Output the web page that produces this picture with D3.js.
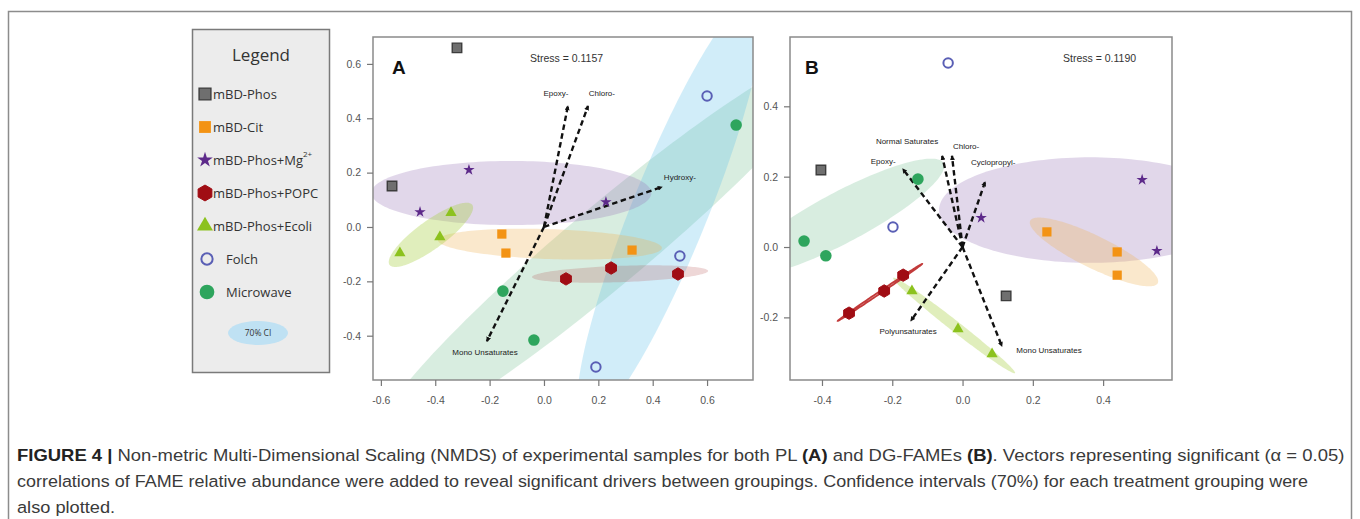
<!DOCTYPE html>
<html>
<head>
<meta charset="utf-8">
<script src="https://cdn.jsdelivr.net/npm/d3@7"></script>
<style>
  body { margin: 0; background: #fff; }
  svg { display: block; }
</style>
</head>
<body>
<svg id="fig" width="1360" height="519"></svg>
<script>
const width = 1360;
const height = 519;

const groups = ["mBD-Phos", "mBD-Cit", "mBD-Phos+Mg", "mBD-Phos+POPC", "mBD-Phos+Ecoli", "Folch", "Microwave"];

// panel A (PL) - NMDS scores
const samplesA = [
  ["mBD-Phos", -0.32, 0.659], ["mBD-Phos", -0.559, 0.151],
  ["mBD-Phos+Mg", -0.276, 0.21], ["mBD-Phos+Mg", -0.456, 0.055], ["mBD-Phos+Mg", 0.228, 0.092],
  ["mBD-Phos+Ecoli", -0.342, 0.052], ["mBD-Phos+Ecoli", -0.383, -0.037], ["mBD-Phos+Ecoli", -0.53, -0.096],
  ["mBD-Cit", -0.155, -0.026], ["mBD-Cit", -0.14, -0.096], ["mBD-Cit", 0.324, -0.085],
  ["mBD-Phos+POPC", 0.081, -0.191], ["mBD-Phos+POPC", 0.247, -0.151], ["mBD-Phos+POPC", 0.493, -0.173],
  ["Folch", 0.6, 0.482], ["Folch", 0.5, -0.107], ["Folch", 0.191, -0.515],
  ["Microwave", 0.707, 0.375], ["Microwave", -0.151, -0.236], ["Microwave", -0.037, -0.416]
];
// [group, cx, cy, semi-axis a, semi-axis b, angle deg]
const ellipsesA = [
  ["Microwave", 0.236, -0.066, 1.104, 0.147, 40],
  ["Folch", 0.464, 0.063, 0.846, 0.14, 68],
  ["mBD-Phos+Mg", -0.12, 0.125, 0.515, 0.118, 0],
  ["mBD-Cit", 0.022, -0.063, 0.412, 0.055, -2],
  ["mBD-Phos+POPC", 0.28, -0.173, 0.324, 0.03, 2],
  ["mBD-Phos+Ecoli", -0.416, -0.029, 0.188, 0.052, 36]
];
// [label, x, y, label x, label y]
const vectorsA = [
  ["Epoxy-", 0.088, 0.445, 0.044, 0.493],
  ["Chloro-", 0.162, 0.445, 0.213, 0.493],
  ["Hydroxy-", 0.434, 0.147, 0.5, 0.184],
  ["Mono Unsaturates", -0.21, -0.42, -0.217, -0.46]
];
const ticksAx = [-0.6, -0.4, -0.2, 0.0, 0.2, 0.4, 0.6];
const ticksAy = [-0.4, -0.2, 0.0, 0.2, 0.4, 0.6];
const stressA = "Stress = 0.1157";

// panel B (DG-FAMEs)
const samplesB = [
  ["mBD-Phos", -0.403, 0.219], ["mBD-Phos", 0.124, -0.139],
  ["Folch", -0.041, 0.523], ["Folch", -0.198, 0.057],
  ["Microwave", -0.127, 0.193], ["Microwave", -0.451, 0.017], ["Microwave", -0.389, -0.025],
  ["mBD-Phos+POPC", -0.323, -0.188], ["mBD-Phos+POPC", -0.223, -0.125], ["mBD-Phos+POPC", -0.169, -0.08],
  ["mBD-Phos+Ecoli", -0.144, -0.125], ["mBD-Phos+Ecoli", -0.013, -0.233], ["mBD-Phos+Ecoli", 0.084, -0.304],
  ["mBD-Phos+Mg", 0.511, 0.191], ["mBD-Phos+Mg", 0.053, 0.083], ["mBD-Phos+Mg", 0.553, -0.011],
  ["mBD-Cit", 0.24, 0.043], ["mBD-Cit", 0.44, -0.014], ["mBD-Cit", 0.44, -0.08]
];
const ellipsesB = [
  ["mBD-Phos+Mg", 0.363, 0.105, 0.43, 0.15, 0],
  ["mBD-Cit", 0.374, -0.014, 0.202, 0.046, -26],
  ["Microwave", -0.343, 0.085, 0.327, 0.072, 28],
  ["mBD-Phos+Ecoli", -0.024, -0.223, 0.22, 0.015, -38],
  ["mBD-Phos+POPC", -0.235, -0.129, 0.145, 0.003, 34]
];
const vectorsB = [
  ["Epoxy-", -0.17, 0.222, -0.226, 0.245],
  ["Normal Saturates", -0.058, 0.259, -0.158, 0.302],
  ["Chloro-", -0.03, 0.259, 0.01, 0.287],
  ["Cyclopropyl-", 0.064, 0.185, 0.087, 0.242],
  ["Polyunsaturates", -0.147, -0.21, -0.155, -0.239],
  ["Mono Unsaturates", 0.112, -0.282, 0.246, -0.293]
];
const ticksBx = [-0.4, -0.2, 0.0, 0.2, 0.4];
const ticksBy = [-0.2, 0.0, 0.2, 0.4];
const stressB = "Stress = 0.1190";

// hexagon-ish symbol like R's pch for POPC
const symbolHex = {
  draw(ctx, size) {
    const r = Math.sqrt(size / 2.6);
    for (let i = 0; i < 6; i++) {
      const a = Math.PI / 6 + i * Math.PI / 3;
      if (i === 0) ctx.moveTo(r * Math.cos(a), r * Math.sin(a));
      else ctx.lineTo(r * Math.cos(a), r * Math.sin(a));
    }
    ctx.closePath();
  }
};

const groupStyle = {
  "mBD-Phos":       { sym: d3.symbolSquare,   size: 90,  fill: "#6f6f6f", stroke: "#3c3c3c", sw: 1.4, ci: null },
  "mBD-Cit":        { sym: d3.symbolSquare,   size: 85,  fill: "#f39314", stroke: "none", sw: 0, ci: "#f0b257", ciOp: 0.3 },
  "mBD-Phos+Mg":    { sym: d3.symbolStar,     size: 40,  fill: "#5d2a8a", stroke: "none", sw: 0, ci: "#9a7bb8", ciOp: 0.3 },
  "mBD-Phos+POPC":  { sym: symbolHex,         size: 100, fill: "#a00d14", stroke: "#a00d14", sw: 1, ci: "#b04848", ciOp: 0.22 },
  "mBD-Phos+Ecoli": { sym: d3.symbolTriangle, size: 55,  fill: "#8cc21e", stroke: "none", sw: 0, ci: "#a5cf3f", ciOp: 0.35 },
  "Folch":          { sym: d3.symbolCircle,   size: 70,  fill: "none", stroke: "#5a5fb5", sw: 2, ci: "#5bc0eb", ciOp: 0.28 },
  "Microwave":      { sym: d3.symbolCircle,   size: 105, fill: "#2ea55d", stroke: "none", sw: 0, ci: "#5cb57f", ciOp: 0.24 }
};

const svg = d3.select("#fig");

// outer figure frame
svg.append("rect")
  .attr("x", 8.5).attr("y", 11.5)
  .attr("width", 1343).attr("height", 520)
  .attr("fill", "none").attr("stroke", "#8c8c8c").attr("stroke-width", 1.5);

const defs = svg.append("defs");
defs.append("marker")
  .attr("id", "head")
  .attr("viewBox", "0 -3 6 6")
  .attr("refX", 5).attr("refY", 0)
  .attr("markerWidth", 5).attr("markerHeight", 5)
  .attr("markerUnits", "userSpaceOnUse")
  .attr("orient", "auto")
  .append("path")
  .attr("d", "M0,-3L6,0L0,3Z")
  .attr("fill", "#111");

function ellipsePoints(e) {
  const [, cx, cy, a, b, ang] = e;
  const th = ang * Math.PI / 180;
  return d3.range(160).map(i => {
    const t = 2 * Math.PI * i / 160;
    return [
      cx + a * Math.cos(t) * Math.cos(th) - b * Math.sin(t) * Math.sin(th),
      cy + a * Math.cos(t) * Math.sin(th) + b * Math.sin(t) * Math.cos(th)
    ];
  });
}

function drawPanel(p) {
  const x = d3.scaleLinear().domain(p.xDomain).range([p.left, p.right]);
  const y = d3.scaleLinear().domain(p.yDomain).range([p.bottom, p.top]);
  const g = svg.append("g").attr("font-family", "Liberation Sans, Arial, sans-serif");

  const clipId = "clip-" + p.name;
  defs.append("clipPath").attr("id", clipId)
    .append("rect")
    .attr("x", p.left).attr("y", p.top)
    .attr("width", p.right - p.left).attr("height", p.bottom - p.top);

  const plot = g.append("g").attr("clip-path", `url(#${clipId})`);
  const line = d3.line().x(d => x(d[0])).y(d => y(d[1])).curve(d3.curveLinearClosed);

  // 70% CI ellipses
  plot.selectAll("path.ci")
    .data(p.ellipses)
    .join("path")
    .attr("class", "ci")
    .attr("d", d => line(ellipsePoints(d)))
    .attr("fill", d => groupStyle[d[0]].ci)
    .attr("fill-opacity", d => groupStyle[d[0]].ciOp)
    .attr("stroke", d => d[4] < 0.01 ? "#c23a3a" : "none")
    .attr("stroke-width", 1.8);

  // fitted vectors
  const vec = plot.append("g");
  vec.selectAll("line")
    .data(p.vectors)
    .join("line")
    .attr("x1", x(0)).attr("y1", y(0))
    .attr("x2", d => x(d[1])).attr("y2", d => y(d[2]))
    .attr("stroke", "#111")
    .attr("stroke-width", 2.4)
    .attr("stroke-dasharray", "5.5,3.5")
    .attr("marker-end", "url(#head)");
  vec.selectAll("text")
    .data(p.vectors)
    .join("text")
    .attr("x", d => x(d[3])).attr("y", d => y(d[4]))
    .attr("dy", "0.35em")
    .attr("text-anchor", "middle")
    .attr("font-size", 8)
    .attr("fill", "#222")
    .text(d => d[0]);

  // samples
  plot.selectAll("path.pt")
    .data(p.samples)
    .join("path")
    .attr("class", "pt")
    .attr("transform", d => `translate(${x(d[1])},${y(d[2])})`)
    .attr("d", d => d3.symbol().type(groupStyle[d[0]].sym).size(groupStyle[d[0]].size)())
    .attr("fill", d => groupStyle[d[0]].fill)
    .attr("stroke", d => groupStyle[d[0]].stroke)
    .attr("stroke-width", d => groupStyle[d[0]].sw);

  // frame
  g.append("rect")
    .attr("x", p.left).attr("y", p.top)
    .attr("width", p.right - p.left).attr("height", p.bottom - p.top)
    .attr("fill", "none").attr("stroke", "#8a8a8a").attr("stroke-width", 1.5);

  // axes
  const fmt = d => d.toFixed(1);
  const xa = g.append("g")
    .attr("transform", `translate(0,${p.bottom})`)
    .call(d3.axisBottom(x).tickValues(p.ticksX).tickSize(6).tickPadding(11).tickFormat(fmt));
  const ya = g.append("g")
    .attr("transform", `translate(${p.left},0)`)
    .call(d3.axisLeft(y).tickValues(p.ticksY).tickSize(6).tickPadding(6).tickFormat(fmt));
  [xa, ya].forEach(a => {
    a.select(".domain").remove();
    a.selectAll(".tick line").attr("stroke", "#777").attr("stroke-width", 1.2);
    a.selectAll(".tick text")
      .attr("fill", "#555")
      .attr("font-size", 10.5)
      .attr("font-family", "Liberation Sans, Arial, sans-serif");
  });

  // panel letter and stress
  g.append("text")
    .attr("x", p.left + p.letterDx).attr("y", p.top + 37)
    .attr("font-size", 19).attr("font-weight", "bold").attr("fill", "#111")
    .text(p.name);
  g.append("text")
    .attr("x", p.left + p.stressDx).attr("y", p.top + 25)
    .attr("font-size", 10.5).attr("fill", "#333")
    .text(p.stress);
}

drawPanel({
  name: "A", left: 373, right: 753, top: 37, bottom: 380,
  xDomain: [-0.629, 0.769], yDomain: [-0.563, 0.699],
  samples: samplesA, ellipses: ellipsesA, vectors: vectorsA,
  ticksX: ticksAx, ticksY: ticksAy, stress: stressA, letterDx: 19, stressDx: 157
});

drawPanel({
  name: "B", left: 790, right: 1172, top: 37, bottom: 380,
  xDomain: [-0.491, 0.596], yDomain: [-0.378, 0.597],
  samples: samplesB, ellipses: ellipsesB, vectors: vectorsB,
  ticksX: ticksBx, ticksY: ticksBy, stress: stressB, letterDx: 15, stressDx: 273
});

// legend
const lg = svg.append("g").attr("font-family", "Open Sans, sans-serif");
lg.append("rect")
  .attr("x", 192.5).attr("y", 29.5).attr("width", 137).attr("height", 343)
  .attr("fill", "#ececec").attr("stroke", "#7a7a7a").attr("stroke-width", 1.5);
lg.append("text")
  .attr("x", 261).attr("y", 61)
  .attr("text-anchor", "middle").attr("font-size", 17).attr("fill", "#333")
  .text("Legend");

const legendSize = {
  "mBD-Phos": 140, "mBD-Cit": 140, "mBD-Phos+Mg": 75, "mBD-Phos+POPC": 165,
  "mBD-Phos+Ecoli": 110, "Folch": 100, "Microwave": 170
};
const rowY = d3.scalePoint().domain(groups).range([94, 292]);
const item = lg.selectAll("g.item")
  .data(groups)
  .join("g")
  .attr("class", "item")
  .attr("transform", d => `translate(0,${rowY(d)})`);
item.append("path")
  .attr("transform", (d, i) => `translate(${i < 5 ? 205 : 207},0)`)
  .attr("d", d => d3.symbol().type(groupStyle[d].sym).size(legendSize[d])())
  .attr("fill", d => groupStyle[d].fill)
  .attr("stroke", d => groupStyle[d].stroke)
  .attr("stroke-width", d => groupStyle[d].sw);
const lt = item.append("text")
  .attr("x", (d, i) => i < 5 ? 213 : 226)
  .attr("dy", "0.35em")
  .attr("font-size", 13)
  .attr("fill", "#333");
lt.append("tspan").text(d => d);
lt.filter(d => d === "mBD-Phos+Mg").append("tspan")
  .attr("font-size", 8).attr("dy", "-0.9em").text("2+");

lg.append("ellipse")
  .attr("cx", 258).attr("cy", 333).attr("rx", 30).attr("ry", 12)
  .attr("fill", "#bfe1f3");
lg.append("text")
  .attr("x", 258).attr("y", 333).attr("dy", "0.35em")
  .attr("text-anchor", "middle").attr("font-size", 8.5).attr("fill", "#333")
  .text("70% CI");

// caption
const captionLines = [
  [["FIGURE 4 |", true], [" Non-metric Multi-Dimensional Scaling (NMDS) of experimental samples for both PL ", false],
   ["(A)", true], [" and DG-FAMEs ", false], ["(B)", true], [". Vectors representing significant (\u03b1 = 0.05)", false]],
  [["correlations of FAME relative abundance were added to reveal significant drivers between groupings. Confidence intervals (70%) for each treatment grouping were", false]],
  [["also plotted.", false]]
];
const captionRight = [1345, 1309, null];
const cap = svg.append("g").attr("font-family", "Liberation Sans, Arial, sans-serif").attr("font-size", 16.5);
let scales = [];
captionLines.forEach((segs, i) => {
  const t = cap.append("text").attr("x", 0).attr("y", 0).attr("fill", "#3a3a3a");
  segs.forEach(([s, b]) => {
    t.append("tspan").attr("font-weight", b ? "bold" : null).attr("fill", b ? "#222" : null).text(s);
  });
  const w = t.node().getComputedTextLength();
  const sx = captionRight[i] ? (captionRight[i] - 17) / w : d3.mean(scales);
  scales.push(sx);
  t.attr("transform", `translate(17,${461 + i * 26}) scale(${sx},1)`);
});
</script>
</body>
</html>
